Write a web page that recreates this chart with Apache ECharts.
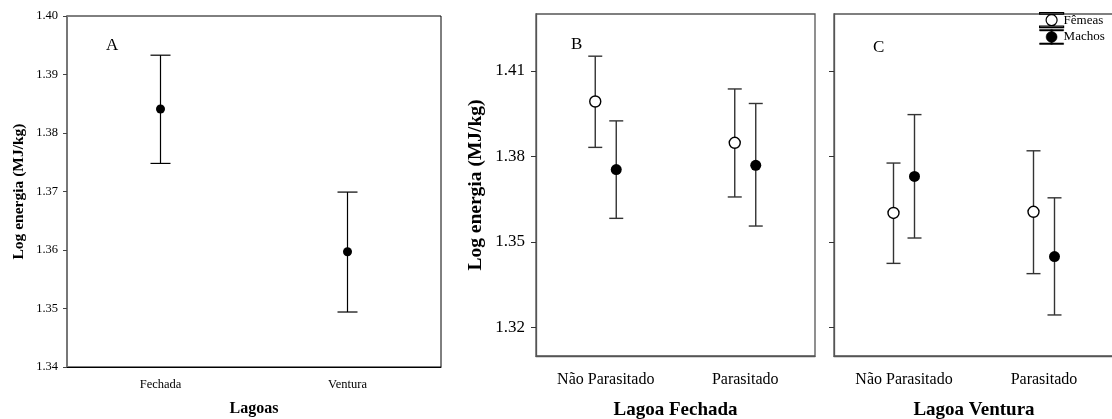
<!DOCTYPE html>
<html><head><meta charset="utf-8">
<script src="https://cdn.jsdelivr.net/npm/echarts@6/dist/echarts.min.js"></script>
<style>html,body{margin:0;padding:0;background:#fff}#c{width:1112px;height:419px}</style>
</head><body><div id="c"></div>
<script>
// ---- data ----
const catsA = ['Fechada', 'Ventura'];
const meanA = [1.3841, 1.3597];
const lowA  = [1.3748, 1.3494];
const highA = [1.3933, 1.3699];

const catsBC = ['Não Parasitado', 'Parasitado'];
const femBMean = [1.3993, 1.3848];
const femBLow  = [1.3832, 1.3658];
const femBHigh = [1.4152, 1.4037];
const macBMean = [1.3754, 1.3769];
const macBLow  = [1.3583, 1.3556];
const macBHigh = [1.3925, 1.3986];

const femCMean = [1.3602, 1.3606];
const femCLow  = [1.3425, 1.3389];
const femCHigh = [1.3777, 1.3820];
const macCMean = [1.3730, 1.3449];
const macCLow  = [1.3514, 1.3244];
const macCHigh = [1.3947, 1.3655];

const ticksBC = [1.32, 1.35, 1.38, 1.41];

// ---- helpers ----
const SERIF = 'Liberation Serif';
function errData(low, high) { return low.map((l, i) => [i, l, high[i]]); }
function errRender(offset, cap, color, lw) {
  return function (params, api) {
    const c = api.value(0);
    const p1 = api.coord([c, api.value(1)]);
    const p2 = api.coord([c, api.value(2)]);
    const x = p1[0] + offset;
    const st = { stroke: color, lineWidth: lw };
    return { type: 'group', children: [
      { type: 'line', shape: { x1: x, y1: p1[1], x2: x, y2: p2[1] }, style: st },
      { type: 'line', shape: { x1: x - cap / 2, y1: p1[1], x2: x + cap / 2, y2: p1[1] }, style: st },
      { type: 'line', shape: { x1: x - cap / 2, y1: p2[1], x2: x + cap / 2, y2: p2[1] }, style: st }
    ]};
  };
}
const iconF = 'path://M0,0H24V1.5H0Z M6.5,7.5A5.5,5.5 0 1,1 17.5,7.5A5.5,5.5 0 1,1 6.5,7.5Z M0,13.5H24V15H0Z';
const iconM = 'path://M0,0H24V1.5H0Z M11.3,0H12.7V15H11.3Z M6.5,7.5A5.5,5.5 0 1,1 17.5,7.5A5.5,5.5 0 1,1 6.5,7.5Z M0,13.5H24V15H0Z';

const frameBC = '#555';
const chart = echarts.init(document.getElementById('c'));
chart.setOption({
  animation: false,
  backgroundColor: '#fff',
  textStyle: { fontFamily: SERIF },
  title: [
    { text: 'A', left: 106, top: 37, padding: 0, textStyle: { fontFamily: SERIF, fontSize: 17, fontWeight: 'normal', color: '#000' } },
    { text: 'B', left: 571, top: 36, padding: 0, textStyle: { fontFamily: SERIF, fontSize: 17, fontWeight: 'normal', color: '#000' } },
    { text: 'C', left: 873, top: 39, padding: 0, textStyle: { fontFamily: SERIF, fontSize: 17, fontWeight: 'normal', color: '#000' } }
  ],
  legend: {
    orient: 'vertical', left: 1039, top: 12, padding: 0, itemGap: 1,
    itemWidth: 24, itemHeight: 15,
    textStyle: { fontFamily: SERIF, fontSize: 13, color: '#000', padding: [0, 0, 0, -5] },
    data: [
      { name: 'Fêmeas', icon: iconF, itemStyle: { color: '#fff', borderColor: '#000', borderWidth: 1.2, opacity: 1 } },
      { name: 'Machos', icon: iconM, itemStyle: { color: '#000', borderColor: '#000', borderWidth: 0.5, opacity: 1 } }
    ]
  },
  grid: [
    { left: 67, top: 16, width: 374, height: 351, show: true, borderColor: '#000', borderWidth: 1, outerBoundsMode: 'none', containLabel: false },
    { left: 536, top: 14, width: 279, height: 342, show: true, borderColor: frameBC, borderWidth: 1.3, outerBoundsMode: 'none', containLabel: false },
    { left: 834, top: 14, width: 280, height: 342, show: true, borderColor: frameBC, borderWidth: 1.3, outerBoundsMode: 'none', containLabel: false }
  ],
  xAxis: [
    { gridIndex: 0, type: 'category', data: catsA, boundaryGap: true,
      axisLine: { lineStyle: { color: '#000', width: 1 } },
      axisTick: { alignWithLabel: true, length: 4, lineStyle: { color: '#000' } },
      axisLabel: { fontFamily: SERIF, fontSize: 12.5, color: '#000', margin: 11 },
      name: 'Lagoas', nameLocation: 'middle', nameGap: 34,
      nameTextStyle: { fontFamily: SERIF, fontSize: 16, fontWeight: 'bold', color: '#000' } },
    { gridIndex: 1, type: 'category', data: catsBC, boundaryGap: true,
      axisLine: { lineStyle: { color: frameBC, width: 1.3 } },
      axisTick: { alignWithLabel: true, length: 5, lineStyle: { color: '#333' } },
      axisLabel: { fontFamily: SERIF, fontSize: 16, color: '#000', margin: 16 },
      name: 'Lagoa Fechada', nameLocation: 'middle', nameGap: 45,
      nameTextStyle: { fontFamily: SERIF, fontSize: 19, fontWeight: 'bold', color: '#000' } },
    { gridIndex: 2, type: 'category', data: catsBC, boundaryGap: true,
      axisLine: { lineStyle: { color: frameBC, width: 1.3 } },
      axisTick: { alignWithLabel: true, length: 5, lineStyle: { color: '#333' } },
      axisLabel: { fontFamily: SERIF, fontSize: 16, color: '#000', margin: 16 },
      name: 'Lagoa Ventura', nameLocation: 'middle', nameGap: 45,
      nameTextStyle: { fontFamily: SERIF, fontSize: 19, fontWeight: 'bold', color: '#000' } }
  ],
  yAxis: [
    { gridIndex: 0, type: 'value', min: 1.34, max: 1.40, interval: 0.01,
      axisLine: { show: true, lineStyle: { color: '#777', width: 2 } },
      axisTick: { show: true, length: 4, lineStyle: { color: '#444' } },
      splitLine: { show: false },
      axisLabel: { fontFamily: SERIF, fontSize: 12.5, color: '#000', margin: 9, formatter: v => v.toFixed(2) },
      name: 'Log energia (MJ/kg)', nameLocation: 'middle', nameGap: 40,
      nameTextStyle: { fontFamily: SERIF, fontSize: 15.5, fontWeight: 'bold', color: '#000' } },
    { gridIndex: 1, type: 'value', min: 1.31, max: 1.43,
      axisLine: { show: true, lineStyle: { color: frameBC, width: 1.3 } },
      axisTick: { show: true, length: 5, customValues: ticksBC, lineStyle: { color: '#333' } },
      splitLine: { show: false },
      axisLabel: { fontFamily: SERIF, fontSize: 17, color: '#000', margin: 11, customValues: ticksBC, formatter: v => v.toFixed(2) },
      name: 'Log energia (MJ/kg)', nameLocation: 'middle', nameGap: 50,
      nameTextStyle: { fontFamily: SERIF, fontSize: 19.5, fontWeight: 'bold', color: '#000' } },
    { gridIndex: 2, type: 'value', min: 1.31, max: 1.43,
      axisLine: { show: true, lineStyle: { color: frameBC, width: 1.3 } },
      axisTick: { show: true, length: 5, customValues: ticksBC, lineStyle: { color: '#333' } },
      splitLine: { show: false },
      axisLabel: { show: false } }
  ],
  series: [
    // Panel A
    { type: 'custom', xAxisIndex: 0, yAxisIndex: 0, data: errData(lowA, highA), renderItem: errRender(0, 20, '#000', 1.2), z: 2 },
    { type: 'scatter', name: 'A', xAxisIndex: 0, yAxisIndex: 0, data: meanA, symbol: 'circle', symbolSize: 9,
      itemStyle: { color: '#000', opacity: 1 }, z: 3 },
    // Panel B
    { type: 'custom', xAxisIndex: 1, yAxisIndex: 1, data: errData(femBLow, femBHigh), renderItem: errRender(-10.5, 14, '#333', 1.4), z: 2 },
    { type: 'custom', xAxisIndex: 1, yAxisIndex: 1, data: errData(macBLow, macBHigh), renderItem: errRender(10.5, 14, '#333', 1.4), z: 2 },
    { type: 'scatter', name: 'Fêmeas', xAxisIndex: 1, yAxisIndex: 1, data: femBMean, symbol: 'circle', symbolSize: 11,
      symbolOffset: [-10.5, 0], itemStyle: { color: '#fff', borderColor: '#000', borderWidth: 1.4, opacity: 1 }, z: 3 },
    { type: 'scatter', name: 'Machos', xAxisIndex: 1, yAxisIndex: 1, data: macBMean, symbol: 'circle', symbolSize: 11,
      symbolOffset: [10.5, 0], itemStyle: { color: '#000', opacity: 1 }, z: 3 },
    // Panel C
    { type: 'custom', xAxisIndex: 2, yAxisIndex: 2, data: errData(femCLow, femCHigh), renderItem: errRender(-10.5, 14, '#333', 1.4), z: 2 },
    { type: 'custom', xAxisIndex: 2, yAxisIndex: 2, data: errData(macCLow, macCHigh), renderItem: errRender(10.5, 14, '#333', 1.4), z: 2 },
    { type: 'scatter', name: 'Fêmeas', xAxisIndex: 2, yAxisIndex: 2, data: femCMean, symbol: 'circle', symbolSize: 11,
      symbolOffset: [-10.5, 0], itemStyle: { color: '#fff', borderColor: '#000', borderWidth: 1.4, opacity: 1 }, z: 3 },
    { type: 'scatter', name: 'Machos', xAxisIndex: 2, yAxisIndex: 2, data: macCMean, symbol: 'circle', symbolSize: 11,
      symbolOffset: [10.5, 0], itemStyle: { color: '#000', opacity: 1 }, z: 3 }
  ]
});
</script></body></html>
